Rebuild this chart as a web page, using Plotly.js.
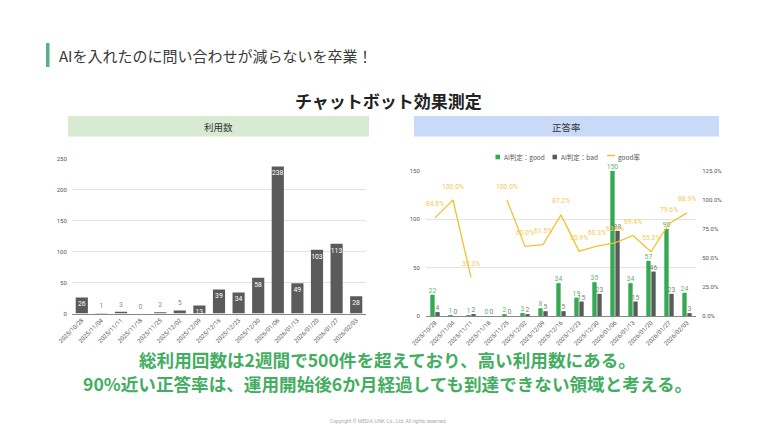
<!DOCTYPE html>
<html><head><meta charset="utf-8">
<script src="https://cdn.plot.ly/plotly-3.0.1.min.js"></script>
<style>html,body{margin:0;padding:0;background:#fff;}#chart{width:777px;height:437px;}</style>
</head><body><div id="chart"></div>
<script>
// ---- data ----
const weeks = ["2025/10/28","2025/11/04","2025/11/11","2025/11/18","2025/11/25","2025/12/02","2025/12/09","2025/12/16","2025/12/23","2025/12/30","2026/01/06","2026/01/13","2026/01/20","2026/01/27","2026/02/03"];
const usageCounts = [26,1,3,0,2,5,13,39,34,58,238,49,103,113,28];
const goodCounts = [22,1,1,0,2,3,8,34,19,35,150,34,57,90,24];
const badCounts = [4,0,2,0,0,2,5,5,15,23,88,15,46,23,3];
const goodRate = [0.846,1.0,0.333,null,1.0,0.600,0.615,0.872,0.559,0.603,0.630,0.694,0.553,0.796,0.889];
const seriesNames = ["AI判定：good","AI判定：bad","good率"];
const leftTicks = [0,50,100,150,200,250];
const rightTicks = [0,50,100,150];
const rateTicks = [0,0.25,0.5,0.75,1.0,1.25];

const W = 777, H = 437;
const px = v => v / W;
const py = v => 1 - v / H;
const JP = '"Noto Sans CJK JP", "Noto Sans", sans-serif';
const RB = 'Roboto, Arial, sans-serif';
const GREEN = '#34a853', DARK = '#5a5a5a', GOLD = '#f1c232';
const catRange = [-0.5, weeks.length - 0.5];

const leftPos = usageCounts.map(v => v >= 10 ? 'inside' : 'outside');

const traces = [
  {type:'bar', x:weeks, y:usageCounts, xaxis:'x', yaxis:'y', showlegend:false,
   marker:{color:'#5b5b5b'}, width:0.62, textangle:0,
   text:usageCounts.map(String), textposition:leftPos, insidetextanchor:'end',
   insidetextfont:{color:'#ffffff', size:6.8, family:RB},
   outsidetextfont:{color:'#8a8a8a', size:6.8, family:RB},
   cliponaxis:false},
  {type:'bar', name:seriesNames[0], x:weeks, y:goodCounts, xaxis:'x2', yaxis:'y2', showlegend:false,
   marker:{color:GREEN}, text:goodCounts.map(String), textposition:'outside', textangle:0,
   textfont:{color:'#5cb874', size:6.8, family:RB}, cliponaxis:false},
  {type:'bar', name:seriesNames[1], x:weeks, y:badCounts, xaxis:'x2', yaxis:'y2', showlegend:false,
   marker:{color:DARK}, text:badCounts.map(String), textposition:'outside', textangle:0,
   textfont:{color:'#808080', size:6.8, family:RB}, cliponaxis:false},
  {type:'scatter', mode:'lines+markers+text', name:seriesNames[2], x:weeks, y:goodRate, xaxis:'x2', yaxis:'y3', showlegend:false,
   line:{color:GOLD, width:1.3}, connectgaps:false,
   marker:{size:14, color:'rgba(0,0,0,0)', line:{width:0}},
   text:goodRate.map(v => v === null ? '' : (v*100).toFixed(1) + '%'), textposition:'top center',
   textfont:{color:'#f3ca4f', size:6.8, family:RB}, cliponaxis:false}
];

const tickFont = {family:RB, size:6, color:'#555'};
const legY = 157;
const layout = {
  width:W, height:H, margin:{l:0,r:0,t:0,b:0, autoexpand:false},
  paper_bgcolor:'#fff', plot_bgcolor:'#fff',
  barmode:'group', bargap:0.44, bargroupgap:0.14,
  uniformtext:{minsize:6.8, mode:'show'},
  font:{family:RB},
  showlegend:false,
  xaxis:{domain:[px(72), px(366)], anchor:'y', type:'category', range:catRange, tickangle:-45,
    tickfont:tickFont, showgrid:false, showline:true, linecolor:'#888', linewidth:1, ticks:''},
  yaxis:{domain:[py(313.5), py(159)], anchor:'x', range:[0,250], tickvals:leftTicks,
    tickfont:tickFont, gridcolor:'#e3e3e3', zeroline:false, showline:false, ticks:'outside', ticklen:3, tickcolor:'#fff'},
  xaxis2:{domain:[px(426), px(696)], anchor:'y2', type:'category', range:catRange, tickangle:-45,
    tickfont:tickFont, showgrid:false, showline:true, linecolor:'#888', linewidth:1, ticks:''},
  yaxis2:{domain:[py(316), py(171)], anchor:'x2', range:[0,150], tickvals:rightTicks,
    tickfont:tickFont, gridcolor:'#e3e3e3', zeroline:false, showline:false, ticks:'outside', ticklen:4, tickcolor:'#fff'},
  yaxis3:{overlaying:'y2', side:'right', anchor:'x2', range:[0,1.25], tickvals:rateTicks,
    tickformat:'.1%', tickfont:tickFont, showgrid:false, zeroline:false, showline:false, ticks:'outside', ticklen:4, tickcolor:'#fff'},
  shapes:[
    {type:'rect', xref:'paper', yref:'paper', x0:px(46), x1:px(49.5), y0:py(67), y1:py(43), fillcolor:'#5aaf86', line:{width:0}},
    {type:'rect', xref:'paper', yref:'paper', x0:px(68), x1:px(369), y0:py(136.5), y1:py(116), fillcolor:'#d9ead3', line:{width:0}, layer:'below'},
    {type:'rect', xref:'paper', yref:'paper', x0:px(414), x1:px(719), y0:py(136.5), y1:py(116), fillcolor:'#c9daf8', line:{width:0}, layer:'below'},
    // legend keys
    {type:'rect', xref:'paper', yref:'paper', x0:px(495.5), x1:px(500), y0:py(legY+2.3), y1:py(legY-2.3), fillcolor:GREEN, line:{width:0}},
    {type:'rect', xref:'paper', yref:'paper', x0:px(552.5), x1:px(557), y0:py(legY+2.3), y1:py(legY-2.3), fillcolor:DARK, line:{width:0}},
    {type:'line', xref:'paper', yref:'paper', x0:px(607), x1:px(615), y0:py(legY-1.5), y1:py(legY-1.5), line:{color:GOLD, width:1.5}}
  ],
  annotations:[
    {xref:'paper', yref:'paper', x:px(57), y:py(55.5), xanchor:'left', yanchor:'middle', showarrow:false,
     text:'AIを入れたのに問い合わせが減らないを卒業！', font:{family:JP, size:15, color:'#3a3a3a'}},
    {xref:'paper', yref:'paper', x:px(389), y:py(100), xanchor:'center', yanchor:'middle', showarrow:false,
     text:'チャットボット効果測定', font:{family:JP, size:17, color:'#222', weight:'bold'}},
    {xref:'paper', yref:'paper', x:px(218.5), y:py(126.5), xanchor:'center', yanchor:'middle', showarrow:false,
     text:'利用数', font:{family:JP, size:9.5, color:'#333'}},
    {xref:'paper', yref:'paper', x:px(566.5), y:py(126.5), xanchor:'center', yanchor:'middle', showarrow:false,
     text:'正答率', font:{family:JP, size:9.5, color:'#333'}},
    {xref:'paper', yref:'paper', x:px(501.5), y:py(legY), xanchor:'left', yanchor:'middle', showarrow:false,
     text:seriesNames[0], font:{family:JP, size:6.5, color:'#555'}},
    {xref:'paper', yref:'paper', x:px(558.5), y:py(legY), xanchor:'left', yanchor:'middle', showarrow:false,
     text:seriesNames[1], font:{family:JP, size:6.5, color:'#555'}},
    {xref:'paper', yref:'paper', x:px(616), y:py(legY), xanchor:'left', yanchor:'middle', showarrow:false,
     text:seriesNames[2], font:{family:JP, size:6.5, color:'#555'}},
    {xref:'paper', yref:'paper', x:px(387), y:py(359), xanchor:'center', yanchor:'middle', showarrow:false,
     text:'総利用回数は2週間で500件を超えており、高い利用数にある。', font:{family:JP, size:17.6, color:'#43ad61', weight:'bold'}},
    {xref:'paper', yref:'paper', x:px(387), y:py(383), xanchor:'center', yanchor:'middle', showarrow:false,
     text:'90%近い正答率は、運用開始後6か月経過しても到達できない領域と考える。', font:{family:JP, size:17.6, color:'#43ad61', weight:'bold'}},
    {xref:'paper', yref:'paper', x:px(388), y:py(421), xanchor:'center', yanchor:'middle', showarrow:false,
     text:'Copyright © MEDIA LINK Co., Ltd. All rights reserved.', font:{family:RB, size:5, color:'#aaa'}}
  ]
};
Plotly.newPlot('chart', traces, layout, {displayModeBar:false, staticPlot:true});
</script></body></html>
